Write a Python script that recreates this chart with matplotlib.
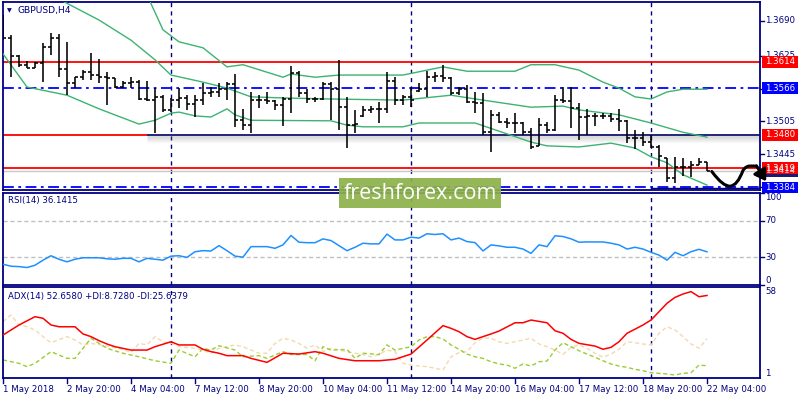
import matplotlib
matplotlib.use("Agg")
import numpy as np
import matplotlib.pyplot as plt
from matplotlib.patches import Rectangle, PathPatch, FancyArrowPatch
from matplotlib.path import Path
from matplotlib.lines import Line2D
from matplotlib.transforms import blended_transform_factory as blend

# ---------------- data ----------------
symbol_title = "GBPUSD,H4"
x_labels = ["1 May 2018", "2 May 20:00", "4 May 04:00", "7 May 12:00", "8 May 20:00",
            "10 May 04:00", "11 May 12:00", "14 May 20:00", "16 May 04:00",
            "17 May 12:00", "18 May 20:00", "22 May 04:00"]
label_step = 8
week_starts = [21, 51, 81]

opens = [1.3691, 1.3658, 1.3625, 1.3609, 1.3603, 1.3612, 1.3642, 1.3658, 1.3601, 1.3575,
         1.3586, 1.3596, 1.3590, 1.3586, 1.3585, 1.3568, 1.3575, 1.3577, 1.3546, 1.3544,
         1.3550, 1.3526, 1.3544, 1.3548, 1.3537, 1.3544, 1.3557, 1.3559, 1.3564, 1.3574,
         1.3507, 1.3498, 1.3544, 1.3544, 1.3542, 1.3535, 1.3546, 1.3594, 1.3557, 1.3546,
         1.3546, 1.3574, 1.3564, 1.3531, 1.3498, 1.3515, 1.3526, 1.3528, 1.3528, 1.3579,
         1.3544, 1.3550, 1.3560, 1.3564, 1.3586, 1.3588, 1.3585, 1.3557, 1.3564, 1.3541,
         1.3539, 1.3485, 1.3517, 1.3504, 1.3502, 1.3502, 1.3485, 1.3460, 1.3498, 1.3489,
         1.3544, 1.3542, 1.3530, 1.3513, 1.3515, 1.3515, 1.3515, 1.3509, 1.3506, 1.3474,
         1.3474, 1.3467, 1.3458, 1.3438, 1.3401, 1.3421, 1.3421, 1.3425, 1.3430]
highs = [1.3700, 1.3664, 1.3627, 1.3616, 1.3614, 1.3649, 1.3667, 1.3665, 1.3651, 1.3586,
         1.3599, 1.3630, 1.3619, 1.3596, 1.3585, 1.3579, 1.3586, 1.3581, 1.3579, 1.3566,
         1.3553, 1.3548, 1.3566, 1.3553, 1.3553, 1.3575, 1.3568, 1.3575, 1.3577, 1.3592,
         1.3528, 1.3559, 1.3553, 1.3559, 1.3544, 1.3550, 1.3607, 1.3597, 1.3564, 1.3550,
         1.3577, 1.3577, 1.3618, 1.3550, 1.3526, 1.3533, 1.3533, 1.3541, 1.3596, 1.3586,
         1.3553, 1.3568, 1.3575, 1.3597, 1.3596, 1.3609, 1.3586, 1.3568, 1.3572, 1.3559,
         1.3557, 1.3526, 1.3522, 1.3511, 1.3520, 1.3504, 1.3493, 1.3511, 1.3504, 1.3553,
         1.3568, 1.3568, 1.3539, 1.3528, 1.3520, 1.3520, 1.3520, 1.3528, 1.3507, 1.3489,
         1.3485, 1.3480, 1.3462, 1.3438, 1.3440, 1.3438, 1.3432, 1.3438, 1.3430]
lows = [1.3654, 1.3586, 1.3605, 1.3603, 1.3603, 1.3577, 1.3627, 1.3586, 1.3553, 1.3566,
        1.3581, 1.3581, 1.3575, 1.3535, 1.3566, 1.3566, 1.3566, 1.3544, 1.3542, 1.3484,
        1.3522, 1.3522, 1.3530, 1.3526, 1.3513, 1.3535, 1.3550, 1.3550, 1.3544, 1.3495,
        1.3489, 1.3484, 1.3530, 1.3537, 1.3526, 1.3496, 1.3520, 1.3550, 1.3539, 1.3541,
        1.3544, 1.3507, 1.3489, 1.3456, 1.3484, 1.3513, 1.3520, 1.3502, 1.3520, 1.3535,
        1.3535, 1.3531, 1.3559, 1.3550, 1.3577, 1.3577, 1.3553, 1.3553, 1.3539, 1.3520,
        1.3480, 1.3449, 1.3502, 1.3493, 1.3484, 1.3480, 1.3454, 1.3460, 1.3484, 1.3487,
        1.3539, 1.3493, 1.3471, 1.3480, 1.3496, 1.3509, 1.3504, 1.3487, 1.3465, 1.3454,
        1.3460, 1.3456, 1.3421, 1.3394, 1.3392, 1.3405, 1.3403, 1.3425, 1.3414]
closes = [1.3658, 1.3625, 1.3609, 1.3603, 1.3612, 1.3642, 1.3658, 1.3601, 1.3575, 1.3586,
          1.3596, 1.3590, 1.3586, 1.3585, 1.3568, 1.3575, 1.3577, 1.3546, 1.3544, 1.3550,
          1.3526, 1.3544, 1.3548, 1.3537, 1.3544, 1.3557, 1.3559, 1.3564, 1.3574, 1.3507,
          1.3498, 1.3544, 1.3544, 1.3542, 1.3535, 1.3546, 1.3594, 1.3557, 1.3546, 1.3546,
          1.3574, 1.3564, 1.3531, 1.3498, 1.3500, 1.3526, 1.3528, 1.3528, 1.3579, 1.3544,
          1.3550, 1.3544, 1.3564, 1.3586, 1.3588, 1.3585, 1.3557, 1.3564, 1.3541, 1.3539,
          1.3485, 1.3517, 1.3504, 1.3502, 1.3502, 1.3485, 1.3458, 1.3498, 1.3489, 1.3544,
          1.3542, 1.3530, 1.3513, 1.3515, 1.3515, 1.3515, 1.3509, 1.3506, 1.3474, 1.3474,
          1.3467, 1.3458, 1.3441, 1.3401, 1.3421, 1.3421, 1.3425, 1.3430, 1.3414]

# Bollinger bands (read at sample bars)
upper_idx = [18, 20, 22, 25, 28, 30, 35, 36, 39, 42, 50, 53, 55, 58, 64, 66, 69, 72, 75, 77, 79, 81, 83, 85, 88]
upper_val = [1.3737, 1.3673, 1.3651, 1.3640, 1.3605, 1.3609, 1.3586, 1.3592, 1.3586, 1.3590,
             1.3590, 1.3599, 1.3605, 1.3597, 1.3597, 1.3609, 1.3609, 1.3599, 1.3577, 1.3566,
             1.3550, 1.3546, 1.3559, 1.3564, 1.3564]
middle_idx = [6, 12, 16, 19, 21, 25, 28, 31, 35, 41, 50, 56, 60, 66, 70, 72, 77, 81, 85, 88]
middle_val = [1.3737, 1.3691, 1.3654, 1.3618, 1.3590, 1.3577, 1.3566, 1.3550, 1.3548, 1.3546,
              1.3544, 1.3553, 1.3544, 1.3531, 1.3533, 1.3526, 1.3517, 1.3502, 1.3485, 1.3476]
lower_idx = [0, 3, 8, 12, 17, 19, 21, 22, 24, 26, 28, 29, 31, 41, 43, 45, 50, 52, 59, 63,
             66, 68, 72, 76, 79, 81, 83, 85, 88]
lower_val = [1.3629, 1.3568, 1.3553, 1.3528, 1.3500, 1.3507, 1.3520, 1.3522, 1.3515, 1.3513,
             1.3528, 1.3517, 1.3507, 1.3506, 1.3498, 1.3495, 1.3495, 1.3502, 1.3502, 1.3482,
             1.3467, 1.3460, 1.3458, 1.3465, 1.3456, 1.3440, 1.3429, 1.3407, 1.3388]

# horizontal levels
red_levels = [1.3614, 1.3419]
support_level = 1.3480
support_start = 18
blue_levels = [1.3566, 1.3384]
current_price = 1.3414
axis_prices = [1.3690, 1.3625, 1.3565, 1.3505, 1.3445, 1.3385]

# forecast sketch (bar, price)
sketch_bars = [88.6, 90.0, 90.9, 91.8, 92.5, 92.9, 93.5, 94.2]
sketch_prices = [1.3413, 1.3385, 1.3386, 1.3387, 1.3415, 1.3424, 1.3423, 1.3423]
arrow_end = (95.4, 1.3395)

# RSI(14)
rsi_idx = list(range(89))
rsi_val = [22.6, 20.4, 20.0, 19.0, 21.5, 27.0, 31.8, 28.0, 25.2, 28.0,
           29.6, 29.6, 29.6, 28.5, 28.0, 29.0, 29.0, 25.2, 29.0, 28.0,
           27.0, 31.4, 31.8, 30.0, 36.2, 37.3, 37.0, 42.8, 37.3, 31.4,
           30.3, 41.7, 41.7, 41.7, 39.9, 43.6, 53.8, 46.5, 46.0, 46.0,
           50.1, 48.3, 42.8, 37.3, 41.0, 45.4, 44.7, 44.7, 55.3, 49.0,
           49.0, 52.0, 51.0, 55.7, 54.9, 55.7, 49.0, 51.0, 47.2, 46.1,
           37.0, 43.6, 42.5, 41.0, 41.0, 39.1, 34.4, 43.6, 41.7, 53.5,
           52.7, 50.2, 46.5, 46.8, 46.8, 46.8, 45.4, 43.6, 39.1, 41.0,
           39.1, 35.5, 32.5, 27.0, 35.5, 31.8, 36.2, 38.8, 36.1]
rsi_levels = [70, 30]
rsi_ticks = [100, 70, 30, 0]

# ADX(14)
adx_idx = [0, 2, 4, 5, 6, 7, 9, 10, 11, 12, 13, 14, 16, 18, 19, 21, 22, 24, 25, 26,
           27, 28, 30, 31, 33, 35, 37, 39, 40, 42, 44, 47, 49, 51, 53, 55, 56, 57, 58, 59,
           60, 61, 62, 64, 65, 66, 68, 69, 70, 71, 72, 74, 75, 76, 77, 78, 80, 81, 82, 83,
           84, 85, 86, 87, 88]
adx_val = [27.9, 34.2, 39.4, 38.4, 34.2, 33.1, 33.1, 28.6, 26.9, 24.4,
           22.3, 20.6, 18.5, 18.5, 20.6, 23.7, 21.7, 21.7, 19.0, 17.5,
           16.5, 15.0, 15.0, 13.3, 10.8, 16.5, 16.0, 17.5, 16.5, 13.3,
           11.8, 11.8, 12.7, 16.0, 24.8, 33.8, 32.1, 30.0, 26.9, 25.2,
           26.9, 28.6, 30.4, 35.6, 35.6, 37.3, 35.6, 30.6, 29.0, 25.2,
           22.7, 21.0, 19.0, 20.2, 23.7, 29.0, 34.2, 37.3, 42.5, 47.8,
           51.5, 53.6, 55.1, 51.9, 52.7]
pdi_idx = [0, 2, 3, 4, 6, 8, 9, 10, 11, 12, 13, 15, 17, 19, 21, 22, 24, 25, 26, 27,
           29, 30, 32, 33, 35, 36, 38, 39, 40, 41, 43, 44, 45, 47, 48, 49, 51, 52, 53, 54,
           55, 56, 57, 58, 59, 60, 61, 62, 63, 64, 65, 66, 67, 68, 69, 70, 71, 72, 73, 74,
           75, 76, 77, 78, 79, 80, 81, 82, 83, 84, 85, 86, 87, 88]
pdi_val = [12.3, 10.2, 8.1, 10.2, 17.5, 13.3, 13.3, 19.6, 25.9, 22.7,
           19.6, 16.5, 14.3, 11.8, 10.2, 18.5, 14.3, 19.6, 18.5, 21.2,
           18.5, 14.3, 15.0, 13.3, 17.5, 15.7, 15.7, 11.8, 20.6, 18.5,
           18.9, 13.3, 16.5, 15.7, 21.7, 18.5, 20.6, 24.8, 26.9, 26.9,
           25.4, 21.7, 19.0, 16.0, 14.3, 13.3, 11.2, 9.8, 9.1, 7.1,
           9.8, 8.5, 11.2, 11.6, 18.5, 23.1, 20.6, 18.1, 16.0, 14.0,
           11.8, 9.8, 8.5, 7.7, 6.4, 5.6, 4.3, 3.9, 3.5, 2.9,
           3.9, 4.3, 9.1, 8.7]
mdi_idx = [0, 1, 2, 3, 4, 5, 6, 8, 9, 10, 11, 13, 15, 16, 17, 18, 19, 20, 21, 22,
           24, 25, 26, 27, 28, 29, 30, 31, 32, 33, 34, 35, 36, 37, 38, 39, 40, 41, 43, 44,
           45, 46, 47, 48, 49, 50, 51, 52, 53, 54, 55, 56, 57, 58, 59, 60, 61, 62, 63, 64,
           65, 66, 67, 68, 69, 70, 71, 72, 73, 74, 75, 76, 77, 78, 79, 80, 81, 82, 83, 84,
           85, 86, 87, 88]
mdi_val = [36.3, 40.5, 34.2, 33.1, 31.1, 26.9, 23.1, 26.9, 24.8, 21.7,
           22.7, 21.0, 19.0, 16.9, 22.7, 21.7, 26.9, 23.7, 22.7, 20.6,
           19.6, 18.5, 16.5, 19.6, 20.6, 21.7, 20.6, 18.5, 16.5, 16.5,
           22.7, 25.9, 24.8, 22.7, 19.6, 21.7, 17.5, 19.6, 17.5, 16.5,
           15.7, 14.3, 15.7, 18.5, 17.5, 10.2, 9.1, 8.5, 8.1, 7.1,
           6.0, 14.3, 16.9, 17.5, 23.1, 25.9, 25.9, 23.7, 22.7, 23.7,
           24.8, 25.9, 22.3, 20.6, 18.5, 15.8, 20.2, 21.7, 19.6, 16.5,
           14.0, 16.0, 19.0, 23.7, 23.1, 22.3, 21.7, 29.0, 33.1, 31.1,
           26.9, 22.3, 19.6, 25.6]
adx_ticks = [58, 1]

rsi_title = "RSI(14) 36.1415"
adx_title = "ADX(14) 52.6580 +DI:8.7280 -DI:25.6379"
watermark = "freshforex.com"

# ---------------- drawing ----------------
W, H = 800, 400
fig = plt.figure(figsize=(8, 4), dpi=100)
fig.patch.set_facecolor("white")


def fx(p):
    return p / W


def fy(p):
    return 1 - p / H


NAVY = "#000080"
FONT = "DejaVu Sans"
FS = 6.2

ax = fig.add_axes([fx(2.5), fy(190), (760 - 2.5) / W, 188 / H])
ax_rsi = fig.add_axes([fx(2.5), fy(285), (760 - 2.5) / W, 92 / H])
ax_adx = fig.add_axes([fx(2.5), fy(378), (760 - 2.5) / W, 91 / H])

xmin, xmax = -0.0625, 94.625
for a in (ax, ax_rsi, ax_adx):
    a.set_xlim(xmin, xmax)
    a.set_xticks([])
    a.set_yticks([])
    for s in a.spines.values():
        s.set_color(NAVY)
        s.set_linewidth(1.3)
    for w in week_starts:
        a.axvline(w, color=NAVY, lw=1.0, ls=(0, (3, 3)), zorder=1)

ymin, ymax = 1.33790, 1.37241
ax.set_ylim(ymin, ymax)
ppx = (ymax - ymin) / 188.0

# levels
for lv in red_levels:
    ax.axhline(lv, color="#FF0000", lw=1.3, zorder=2)
ax.hlines(support_level, xmin, support_start, color="#FF0000", lw=1.3, zorder=2)
for k in range(1, 8):
    ax.hlines(support_level - k * ppx, support_start, xmax, color="#808080",
              lw=1.0, alpha=0.28 * (1 - k / 8.0), zorder=2)
ax.hlines(support_level, support_start, xmax, color="#14146E", lw=1.3, zorder=2.5)
for lv in blue_levels:
    ax.axhline(lv, color="#0000FF", lw=1.3, ls=(0, (6, 2.5, 1.5, 2.5)), zorder=2)
ax.hlines(blue_levels[1] - 1.2 * ppx, week_starts[-1], xmax, color=NAVY, lw=1.0, zorder=2)
ax.axhline(current_price, color="#C8C8C8", lw=1.0, zorder=1.5)

# bollinger
band_c = "#3CB371"
ax.plot(upper_idx, upper_val, color=band_c, lw=1.0, zorder=3)
ax.plot(middle_idx, middle_val, color=band_c, lw=1.0, zorder=3)
ax.plot(lower_idx, lower_val, color=band_c, lw=1.0, zorder=3)

# price bars
idx = np.arange(len(closes))
ax.vlines(idx, lows, highs, color="black", lw=1.15, zorder=5)
ax.hlines(opens, idx - 0.36, idx, color="black", lw=1.15, zorder=5)
ax.hlines(closes, idx, idx + 0.36, color="black", lw=1.15, zorder=5)

# right axis of main panel
tr = blend(fig.transFigure, ax.transData)
for p in axis_prices:
    ax.text(fx(765), p, f"{p:.4f}", transform=tr, ha="left", va="center",
            fontsize=FS, color=NAVY, family=FONT, clip_on=False, zorder=20)
    ax.add_line(Line2D([fx(760), fx(764)], [p, p], transform=tr, color=NAVY,
                       lw=1.0, clip_on=False))


def price_box(val, fc, tc="white"):
    h = 11.5 * ppx
    ax.add_patch(Rectangle((fx(762), val - h / 2), (798 - 762) / W, h, transform=tr,
                           facecolor=fc, edgecolor="none", clip_on=False, zorder=25))
    ax.text(fx(780), val, f"{val:.4f}", transform=tr, ha="center", va="center",
            fontsize=FS, color=tc, family=FONT, clip_on=False, zorder=26)


price_box(current_price, "#1A1A70", "#D0D0E0")
price_box(red_levels[0], "#FF0000")
price_box(blue_levels[0], "#0000FF")
price_box(support_level, "#FF0000")
price_box(red_levels[1], "#FF0000")
price_box(blue_levels[1], "#0000FF")

# forecast sketch
verts = list(zip(sketch_bars, sketch_prices))
codes = [Path.MOVETO, Path.CURVE3, Path.CURVE3, Path.CURVE3, Path.CURVE3,
         Path.CURVE3, Path.CURVE3, Path.LINETO]
ax.add_patch(PathPatch(Path(verts, codes), facecolor="none", edgecolor="black",
                       lw=2.2, clip_on=False, zorder=40, capstyle="round", joinstyle="round"))
ax.add_patch(FancyArrowPatch((sketch_bars[-1], sketch_prices[-1]), arrow_end,
                             arrowstyle="-|>,head_length=0.55,head_width=0.35",
                             mutation_scale=12, color="black", lw=2.2, clip_on=False,
                             zorder=40, shrinkA=0, shrinkB=0))

# title
fig.text(fx(6.5), fy(10.5), "\u25BC", fontsize=4.5, color=NAVY, family=FONT,
         ha="left", va="center")
fig.text(fx(18), fy(10.5), symbol_title, fontsize=6.6, color=NAVY, family=FONT,
         ha="left", va="center")

# ---- RSI ----
ax_rsi.set_ylim(0, 100)
for lv in rsi_levels:
    ax_rsi.axhline(lv, color="#C0C0C0", lw=1.0, ls=(0, (3, 2)), zorder=1)
ax_rsi.plot(rsi_idx, rsi_val, color="#1E90FF", lw=1.1, zorder=3)
fig.text(fx(8), fy(201), rsi_title, fontsize=FS, color=NAVY, family=FONT,
         ha="left", va="center")
tr_r = blend(fig.transFigure, ax_rsi.transData)
for t in rsi_ticks:
    va = "center"
    if t == 100:
        va = "top"
    elif t == 0:
        va = "bottom"
    ax_rsi.text(fx(765), t, str(t), transform=tr_r, ha="left", va=va, fontsize=FS,
                color=NAVY, family=FONT, clip_on=False)
    ax_rsi.add_line(Line2D([fx(760), fx(764)], [t, t], transform=tr_r, color=NAVY,
                           lw=1.0, clip_on=False))

# ---- ADX ----
ax_adx.set_ylim(1, 58)
ax_adx.plot(mdi_idx, mdi_val, color="#F5D9AE", lw=1.0, ls=(0, (3, 2)), zorder=2)
ax_adx.plot(pdi_idx, pdi_val, color="#9ACD32", lw=1.0, ls=(0, (3, 2)), zorder=2)
ax_adx.plot(adx_idx, adx_val, color="#FF0000", lw=1.1, zorder=3)
fig.text(fx(8), fy(297), adx_title, fontsize=FS, color=NAVY, family=FONT,
         ha="left", va="center")
tr_a = blend(fig.transFigure, ax_adx.transData)
for t, va in zip(adx_ticks, ["top", "bottom"]):
    ax_adx.text(fx(765), t, str(t), transform=tr_a, ha="left", va=va, fontsize=FS,
                color=NAVY, family=FONT, clip_on=False)

# x axis labels
tr_x = blend(ax_adx.transData, fig.transFigure)
for k, lab in enumerate(x_labels):
    xi = k * label_step
    ax_adx.add_line(Line2D([xi, xi], [fy(378), fy(383)], transform=tr_x, color=NAVY,
                           lw=1.0, clip_on=False))
    ax_adx.text(xi - 0.05, fy(389.5), lab, transform=tr_x, ha="left", va="center",
                fontsize=FS, color=NAVY, family=FONT, clip_on=False)

# watermark
fig.add_artist(Rectangle((fx(339), fy(208)), 162 / W, 30 / H, transform=fig.transFigure,
                         facecolor="#8DB24A", edgecolor="none", alpha=0.93, zorder=50))
fig.text(fx(420), fy(193.5), watermark, fontsize=15.5, color="white",
         family="Open Sans", ha="center", va="center", zorder=51)

fig.savefig("out.png", dpi=100, facecolor="white")
